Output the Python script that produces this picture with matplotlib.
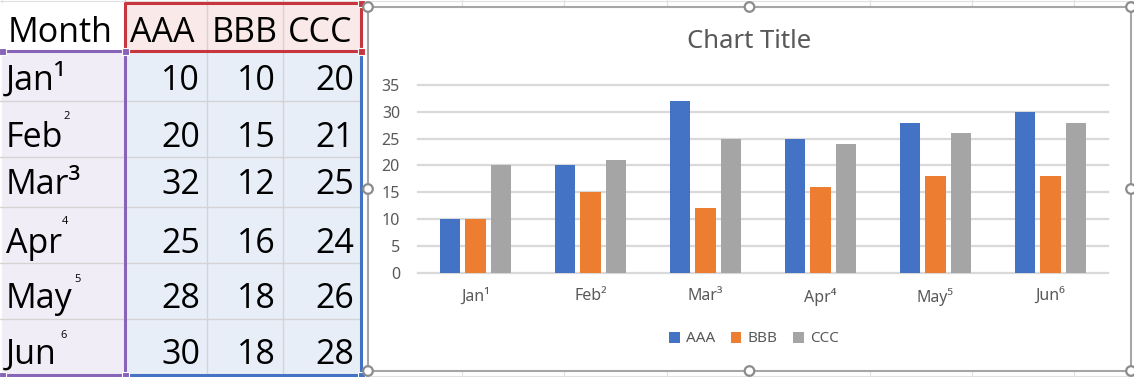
import matplotlib.pyplot as plt
from matplotlib.patches import Rectangle, Circle
import numpy as np

# table / chart data
months = ["Jan", "Feb", "Mar", "Apr", "May", "Jun"]
month_sup = ["¹", "2", "³", "4", "5", "6"]
series_names = ["AAA", "BBB", "CCC"]
aaa = [10, 20, 32, 25, 28, 30]
bbb = [10, 15, 12, 16, 18, 18]
ccc = [20, 21, 25, 24, 26, 28]
x_labels = ["Jan¹", "Feb²", "Mar³", "Apr⁴", "May⁵", "Jun⁶"]

W, H = 1134, 377
SERIES_COLORS = ["#4472C4", "#ED7D31", "#A5A5A5"]
TEXT_GRAY = "#595959"
GRID_GRAY = "#D9D9D9"
CELL_GRID = "#D4D4D4"
CHART_FONT = ["Noto Sans", "DejaVu Sans"]

fig = plt.figure(figsize=(W / 100, H / 100), dpi=100)
fig.patch.set_facecolor("white")

# full-figure overlay in pixel coords for the worksheet part
bg = fig.add_axes([0, 0, 1, 1])
bg.set_xlim(0, W)
bg.set_ylim(H, 0)
bg.axis("off")

# faint sheet gridlines around the chart
for x in [2, 462, 564, 667, 870, 972, 1074]:
    bg.plot([x, x], [0, H], color="#E1E1E1", lw=0.8, zorder=0)
for y in [1, 376]:
    bg.plot([0, W], [y, y], color="#E1E1E1", lw=0.8, zorder=0)

# ---- table ----
row_y = [3, 51, 101, 157, 207, 263, 319, 375]
col_x = [2, 125, 207, 283, 361]
baselines = [42, 90, 147, 194, 253, 308, 364]
sup_pos = {1: (63, 119), 3: (62, 224), 4: (74, 282), 5: (60, 338)}

bg.add_patch(Rectangle((col_x[0], row_y[0]), col_x[1] - col_x[0], row_y[1] - row_y[0],
                       fc="white", ec="none", zorder=1))
bg.add_patch(Rectangle((col_x[1], row_y[0]), col_x[4] - col_x[1], row_y[1] - row_y[0],
                       fc="#FAE9E9", ec="none", zorder=1))
bg.add_patch(Rectangle((col_x[0], row_y[1]), col_x[1] - col_x[0], row_y[-1] - row_y[1],
                       fc="#F1EDF6", ec="none", zorder=1))
bg.add_patch(Rectangle((col_x[1], row_y[1]), col_x[4] - col_x[1], row_y[-1] - row_y[1],
                       fc="#E8EEF8", ec="none", zorder=1))
for y in row_y[1:-1]:
    bg.plot([0, col_x[4]], [y, y], color=CELL_GRID, lw=1, zorder=2)
for x in col_x[1:-1]:
    bg.plot([x, x], [0, row_y[-1]], color=CELL_GRID, lw=1, zorder=2)

# selection borders
PURPLE, RED, BLUE = "#8764B8", "#C7363E", "#4472C4"
bg.plot([col_x[0], col_x[1], col_x[1], col_x[0]],
        [row_y[1], row_y[1], row_y[-1], row_y[-1]], color=PURPLE, lw=2.2, zorder=4)
bg.plot([col_x[1], col_x[4], col_x[4], col_x[1], col_x[1]],
        [row_y[1], row_y[1], row_y[0], row_y[0], row_y[1]], color=RED, lw=2.2, zorder=5)
bg.plot([col_x[4], col_x[4], col_x[1]],
        [row_y[1], row_y[-1], row_y[-1]], color=BLUE, lw=2.2, zorder=4)
for (x, y, c) in [(col_x[1], row_y[1], PURPLE), (col_x[0], row_y[1], PURPLE),
                  (col_x[1], row_y[-1], PURPLE), (col_x[0], row_y[-1], PURPLE),
                  (col_x[4], row_y[0], RED), (col_x[4], row_y[1], RED),
                  (col_x[4], row_y[-1], BLUE)]:
    bg.add_patch(Rectangle((x - 3.5, y - 3.5), 7, 7, fc=c, ec="white", lw=0.8, zorder=6))

tfont = dict(family=["Open Sans", "DejaVu Sans"], fontsize=24.5, color="black", zorder=7)
bg.text(8, baselines[0], "Month", ha="left", va="baseline", **tfont)
for j, name in enumerate(series_names):
    bg.text(col_x[j + 1] + 5, baselines[0], name, ha="left", va="baseline", **tfont)
for i, m in enumerate(months):
    label = m + month_sup[i] if month_sup[i] in "¹³" else m
    bg.text(6, baselines[i + 1], label, ha="left", va="baseline", **tfont)
    if i in sup_pos:
        bg.text(sup_pos[i][0], sup_pos[i][1], month_sup[i], ha="left", va="baseline",
                family=["Open Sans", "DejaVu Sans"], fontsize=8, color="black", zorder=7)
    for j, vals in enumerate([aaa, bbb, ccc]):
        bg.text(col_x[j + 2] - 7, baselines[i + 1], str(vals[i]), ha="right",
                va="baseline", **tfont)

# ---- chart frame ----
cx0, cy0, cx1, cy1 = 368, 7, 1131, 371
bg.add_patch(Rectangle((cx0, cy0), cx1 - cx0, cy1 - cy0, fc="white", ec="#A6A6A6",
                       lw=1.5, zorder=8))
cmx, cmy = (cx0 + cx1) / 2, (cy0 + cy1) / 2
for (x, y) in [(cx0, cy0), (cmx, cy0), (cx1, cy0), (cx0, cmy), (cx1, cmy),
               (cx0, cy1), (cmx, cy1), (cx1, cy1)]:
    bg.add_patch(Circle((x, y), 4.8, fc="white", ec="#8C8C8C", lw=1.6, zorder=9))

fig.text(749 / W, 1 - 42 / H, "Chart Title", ha="center", va="center",
         family=CHART_FONT, fontsize=18.5, color=TEXT_GRAY)

# ---- chart plot area ----
ax = fig.add_axes([418 / W, 1 - 272.7 / H, 690 / W, (272.7 - 85) / H])
ax.patch.set_alpha(0)
x = np.arange(len(months))
step, width = 0.222, 0.174
for k, (name, vals) in enumerate(zip(series_names, [aaa, bbb, ccc])):
    ax.bar(x + (k - 1) * step, vals, width, color=SERIES_COLORS[k], label=name, zorder=3)
ax.set_xlim(-0.5, len(months) - 0.5)
ax.set_ylim(0, 35)
ax.set_yticks(range(0, 36, 5))
ax.set_xticks(x)
ax.set_xticklabels(x_labels)
for s in ax.spines.values():
    s.set_visible(False)
ax.grid(axis="y", color=GRID_GRAY, lw=1.6, zorder=1)
for gl in ax.get_ygridlines():
    gl.set_clip_on(False)
ax.tick_params(length=0, colors=TEXT_GRAY, labelsize=11.5)
ax.tick_params(axis="y", pad=13)
ax.tick_params(axis="x", pad=11)
for lab in ax.get_xticklabels() + ax.get_yticklabels():
    lab.set_family(CHART_FONT)

leg = fig.legend(loc="center", bbox_to_anchor=(754 / W, 1 - 339 / H), ncol=3,
                 frameon=False, handlelength=0.7, handleheight=0.7,
                 handletextpad=0.4, columnspacing=1.0,
                 prop={"family": CHART_FONT, "size": 11})
for t in leg.get_texts():
    t.set_color(TEXT_GRAY)

fig.savefig("out.png", dpi=100, facecolor="white")
